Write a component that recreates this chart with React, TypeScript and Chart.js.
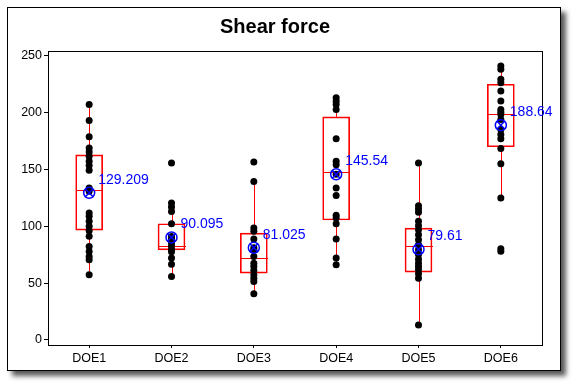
import React, { useEffect, useRef } from 'react';
import { Chart, registerables } from 'chart.js';

Chart.register(...registerables);

const categories = ['DOE1', 'DOE2', 'DOE3', 'DOE4', 'DOE5', 'DOE6'];
const yTicks = [0, 50, 100, 150, 200, 250];

const means = [129.209, 90.095, 81.025, 145.54, 79.61, 188.64];
const q1 = [96.5, 79.2, 58.7, 105.4, 59.6, 169.7];
const medians = [131.7, 82.7, 71.9, 147.6, 82.2, 198.6];
const q3 = [162.6, 102.1, 93.9, 195.9, 98.3, 224.6];
const whiskerLow = [57.2, 55.7, 40.5, 66, 13.2, 124.7];
const whiskerHigh = [206.9, 120.2, 139.1, 212.7, 155.5, 240.6];

const doe1 = [206.9, 192.8, 178.4, 168.6, 165.1, 161.3, 157, 153.2, 149.1, 133.5, 130.6, 111.5, 108.6, 104.2, 99.8, 96, 91, 82.2, 77.8, 73.3, 70.4, 57.2];
const doe2 = [155.5, 120.2, 116.7, 112.9, 102.1, 90.8, 88.5, 85.5, 82.5, 79.8, 77.5, 71.9, 66.5, 55.7];
const doe3 = [156.4, 139.1, 98.3, 95.4, 88.7, 81, 79.2, 73.3, 67.5, 64.5, 61, 57.2, 54.3, 51.3, 40.5];
const doe4 = [212.7, 209.7, 206.9, 202.5, 176.7, 157, 154, 145.5, 133.5, 126.8, 109.6, 107.1, 102.1, 88.6, 71.9, 66];
const doe5 = [155.5, 118, 115, 112.1, 104.2, 100.4, 96.8, 92.4, 88, 83.6, 79.2, 75, 71, 67.5, 64.5, 61.6, 58.1, 54.3, 13.2];
const doe6 = [240.6, 237.7, 228.9, 226, 218.6, 209.8, 202.5, 200.1, 198, 193.7, 184.9, 180.5, 176.7, 168.2, 154.7, 124.7, 80.2, 78];

const FONT = '"Liberation Sans", Arial, sans-serif';
const BOX_HALF = 13.5;

export default function App() {
  const ref = useRef<HTMLCanvasElement>(null);

  useEffect(() => {
    if (!ref.current) return;
    const groups = [doe1, doe2, doe3, doe4, doe5, doe6];
    const points = groups.flatMap((g, i) => g.map((v) => ({ x: i + 1, y: v })));
    const boxData = categories.map((_, i) => ({ x: i + 1, y: [q1[i], q3[i]] }));
    const meanData = means.map((m, i) => ({ x: i + 1, y: m }));

    const boxPlugin = {
      id: 'boxExtras',
      beforeDatasetsDraw(chart: any) {
        const { ctx, chartArea: a, scales } = chart;
        const xs = scales.x;
        const ys = scales.y;
        ctx.save();
        ctx.strokeStyle = '#000';
        ctx.lineWidth = 1;
        ctx.strokeRect(Math.floor(a.left) + 0.5, Math.floor(a.top) + 0.5, Math.round(a.right - a.left), Math.round(a.bottom - a.top));
        ctx.strokeStyle = '#ff0000';
        categories.forEach((_, i) => {
          const px = Math.round(xs.getPixelForValue(i + 1)) + 0.5;
          ctx.beginPath();
          ctx.moveTo(px, ys.getPixelForValue(whiskerHigh[i]));
          ctx.lineTo(px, ys.getPixelForValue(q3[i]));
          ctx.moveTo(px, ys.getPixelForValue(q1[i]));
          ctx.lineTo(px, ys.getPixelForValue(whiskerLow[i]));
          const my = Math.round(ys.getPixelForValue(medians[i])) + 0.5;
          ctx.moveTo(px - BOX_HALF, my);
          ctx.lineTo(px + BOX_HALF, my);
          ctx.stroke();
        });
        ctx.restore();
      },
      afterDatasetsDraw(chart: any) {
        const { ctx, scales } = chart;
        ctx.save();
        ctx.fillStyle = '#0000ff';
        ctx.font = `14px ${FONT}`;
        ctx.textAlign = 'left';
        ctx.textBaseline = 'middle';
        means.forEach((m, i) => {
          const px = scales.x.getPixelForValue(i + 1);
          const py = scales.y.getPixelForValue(m);
          ctx.fillText(String(m), px + 9, py - 13);
        });
        ctx.restore();
      },
    };

    const chart = new Chart(ref.current, {
      type: 'scatter',
      data: {
        datasets: [
          {
            type: 'scatter',
            data: meanData,
            pointStyle: 'crossRot',
            radius: 5.5,
            borderColor: '#0000ff',
            borderWidth: 1.5,
            backgroundColor: 'transparent',
          },
          {
            type: 'scatter',
            data: meanData,
            pointStyle: 'circle',
            radius: 5.5,
            borderColor: '#0000ff',
            borderWidth: 1.5,
            backgroundColor: 'transparent',
          },
          {
            type: 'scatter',
            data: points,
            pointStyle: 'circle',
            radius: 3.5,
            borderWidth: 0,
            backgroundColor: '#000',
          },
          {
            type: 'bar',
            data: boxData as any,
            barThickness: 27,
            borderColor: '#ff0000',
            borderWidth: 1,
            borderSkipped: false,
            backgroundColor: 'transparent',
          } as any,
        ],
      },
      options: {
        responsive: false,
        animation: false,
        devicePixelRatio: 1,
        layout: { padding: { left: 0, right: 18, top: 0, bottom: 0 } },
        plugins: {
          legend: { display: false },
          tooltip: { enabled: false },
          title: {
            display: true,
            text: 'Shear force',
            color: '#000',
            font: { family: FONT, size: 20, weight: 'bold' },
            padding: { top: 7, bottom: 12 },
          },
        },
        scales: {
          x: {
            type: 'linear',
            min: 0.5,
            max: 6.5,
            offset: false,
            afterBuildTicks: (s: any) => {
              s.ticks = categories.map((_, i) => ({ value: i + 1 }));
            },
            afterFit: (s: any) => {
              s.height = 25;
            },
            ticks: {
              color: '#000',
              font: { family: FONT, size: 12.5 },
              padding: 3,
              maxRotation: 0,
              callback: (v: any) => categories[Number(v) - 1],
            },
            grid: { display: true, offset: false, drawOnChartArea: false, drawTicks: true, tickLength: 3, color: '#000' },
            border: { display: false },
          },
          y: {
            type: 'linear',
            min: -4.4,
            max: 253.8,
            afterBuildTicks: (s: any) => {
              s.ticks = yTicks.map((v) => ({ value: v }));
            },
            afterFit: (s: any) => {
              s.width = 40;
            },
            ticks: {
              color: '#000',
              font: { family: FONT, size: 12.5 },
              padding: 2,
            },
            grid: { display: true, offset: false, drawOnChartArea: false, drawTicks: true, tickLength: 4, color: '#000' },
            border: { display: false },
          },
        },
      } as any,
      plugins: [boxPlugin],
    });
    return () => chart.destroy();
  }, []);

  return (
    <div
      style={{
        position: 'absolute',
        left: 7,
        top: 7,
        width: 552,
        height: 362,
        border: '1px solid #000',
        background: '#fff',
        boxShadow: '5px 5px 5px rgba(0,0,0,0.65)',
      }}
    >
      <canvas ref={ref} width={552} height={362} style={{ display: 'block' }} />
    </div>
  );
}
